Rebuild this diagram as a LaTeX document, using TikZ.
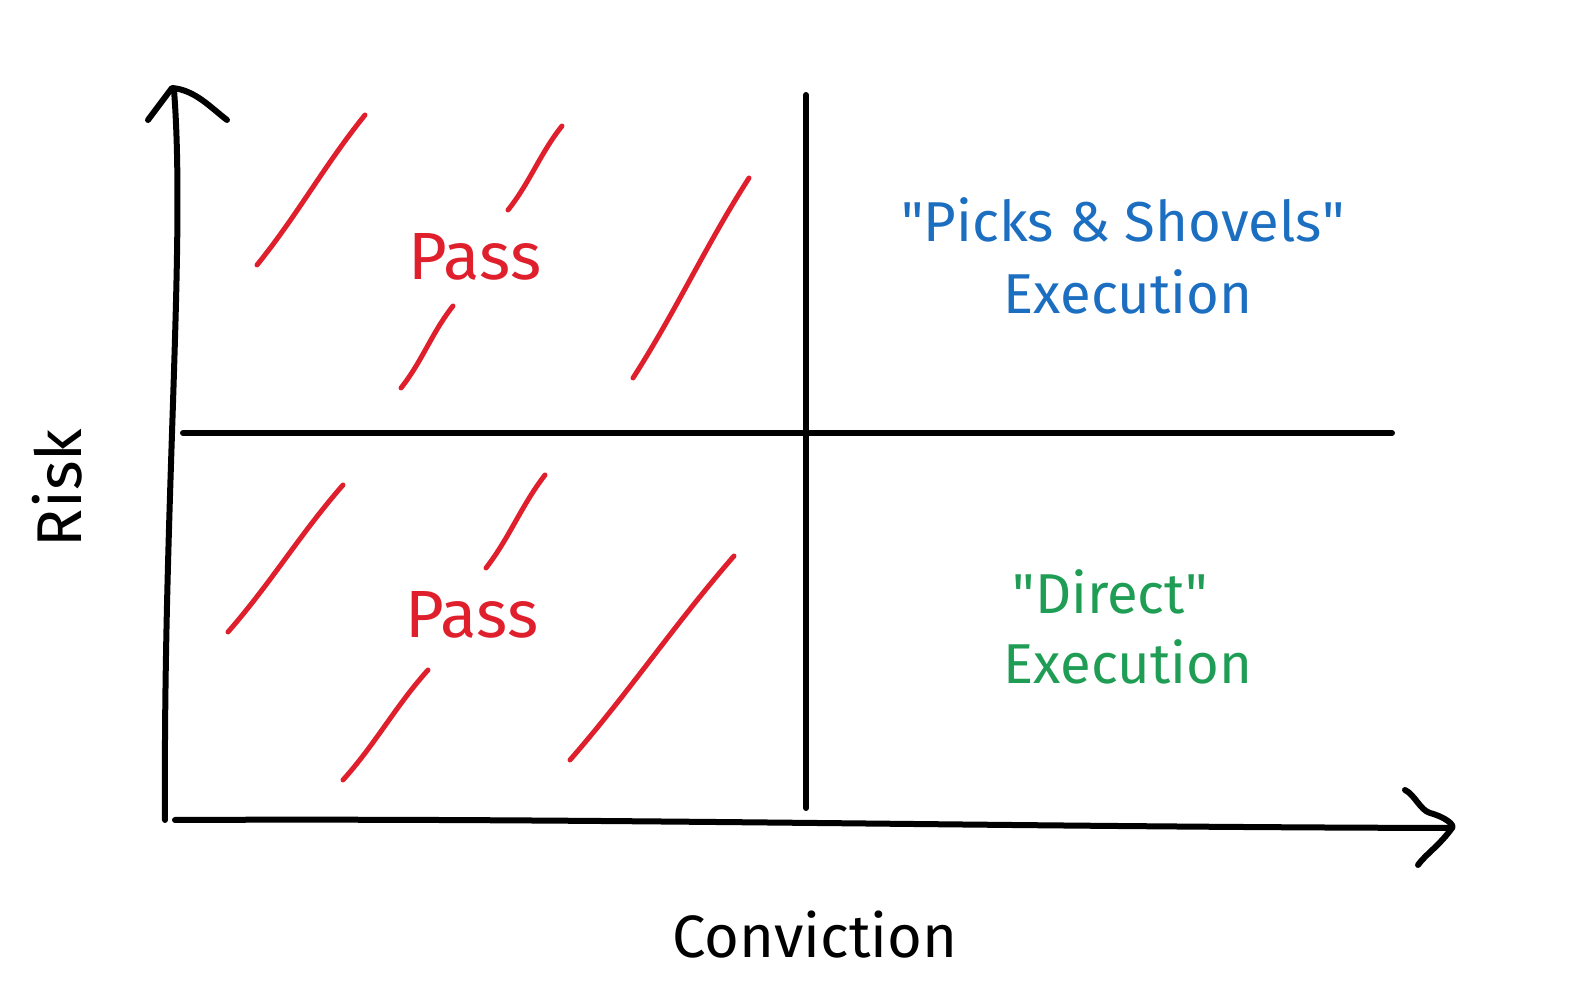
\documentclass[tikz,border=0pt]{standalone}
\usepackage{fontspec}
\setmainfont{Fira Sans}
\usetikzlibrary{calc}
\definecolor{passred}{RGB}{224,31,45}
\definecolor{picksblue}{RGB}{28,110,192}
\definecolor{directgreen}{RGB}{31,157,85}
\tikzset{
	axisline/.style={line width=0.6mm, line cap=round, line join=round, color=black},
	hatch/.style={line width=0.5mm, line cap=round, color=passred},
	handtext/.style={font=\fontsize{16}{19}\selectfont, inner sep=0pt}
}
\def\hatchline(#1)(#2){\draw[hatch] (#1) .. controls ($(#1)!0.35!(#2)+(0.03,-0.02)$) and ($(#1)!0.65!(#2)+(-0.03,0.02)$) .. (#2);}

\begin{document}
\begin{tikzpicture}
		%%%%% START %%%%%
		\useasboundingbox (0, 0) rectangle (15.75, 10.05);
		
		% axes
		\draw[axisline] (1.65, 1.85) .. controls (1.63, 5.0) and (1.86, 7.6) .. (1.74, 9.15);
		\draw[axisline] (1.48, 8.85) -- (1.72, 9.17) .. controls (1.95, 9.15) and (2.10, 8.98) .. (2.27, 8.85);
		\draw[axisline] (1.75, 1.85) .. controls (6.0, 1.87) and (10.0, 1.78) .. (14.52, 1.77);
		\draw[axisline] (14.05, 2.15) .. controls (14.15, 2.10) and (14.20, 1.95) .. (14.30, 1.92) .. controls (14.45, 1.88) and (14.55, 1.80) .. (14.52, 1.77) .. controls (14.40, 1.60) and (14.25, 1.50) .. (14.18, 1.40);
		
		% quadrant dividers
		\draw[axisline] (8.06, 9.10) -- (8.06, 1.97);
		\draw[axisline] (1.83, 5.72) -- (13.92, 5.72);
		
		% hatching, upper left
		\hatchline(2.57, 7.40)(3.65, 8.90)
		\hatchline(5.08, 7.95)(5.62, 8.79)
		\hatchline(4.01, 6.17)(4.53, 6.99)
		\hatchline(6.33, 6.27)(7.49, 8.27)
		
		% hatching, lower left
		\hatchline(2.28, 3.73)(3.43, 5.20)
		\hatchline(4.86, 4.37)(5.45, 5.30)
		\hatchline(3.43, 2.25)(4.28, 3.35)
		\hatchline(5.70, 2.45)(7.34, 4.49)
		
		% labels
		\node[handtext, font=\fontsize{19}{22}\selectfont, color=passred] (passtop) at (4.75, 7.48) {Pass};
		\node[handtext, font=\fontsize{19}{22}\selectfont, color=passred] (passbottom) at (4.72, 3.90) {Pass};
		\node[handtext, color=picksblue] (picks) at (11.23, 7.85) {\textquotedbl Picks \& Shovels\textquotedbl};
		\node[handtext, color=picksblue] (picksexec) at (11.28, 7.13) {Execution};
		\node[handtext, color=directgreen] (direct) at (11.10, 4.13) {\textquotedbl Direct\textquotedbl};
		\node[handtext, color=directgreen] (directexec) at (11.28, 3.43) {Execution};
		\node[handtext, font=\fontsize{18}{21}\selectfont, rotate=90] (risk) at (0.57, 5.17) {Risk};
		\node[handtext, font=\fontsize{17}{20}\selectfont] (conviction) at (8.15, 0.70) {Conviction};
		
		%%%%% END %%%%%
	\end{tikzpicture}
\end{document}
